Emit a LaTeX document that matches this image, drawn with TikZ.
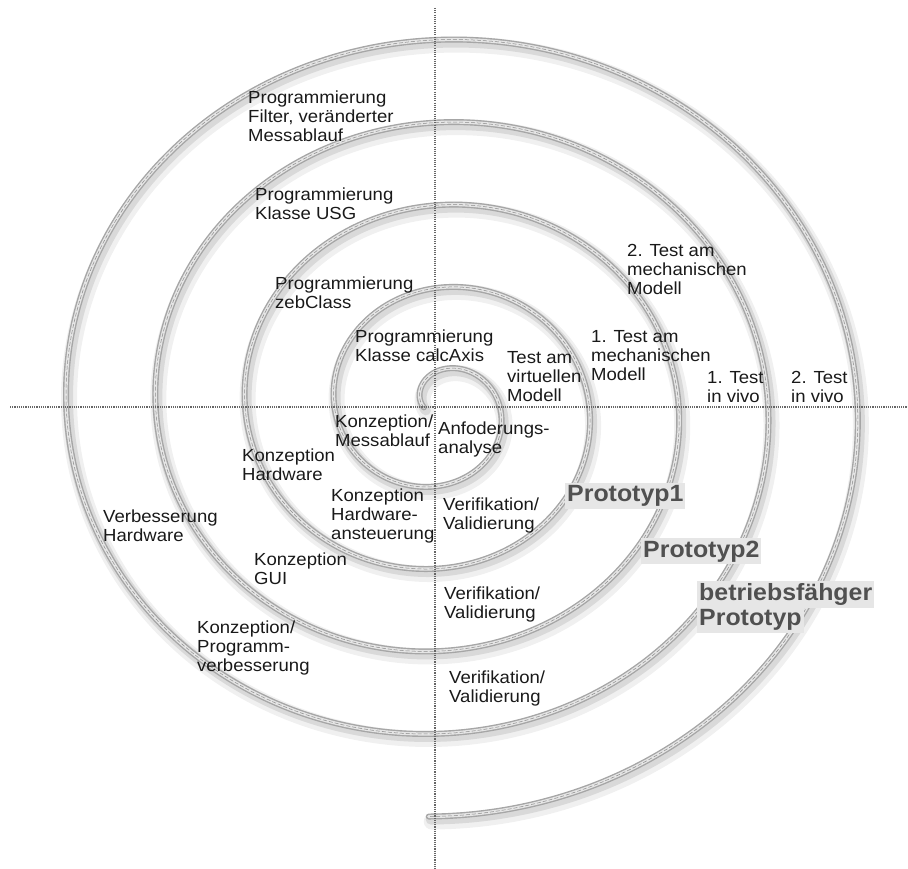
\documentclass[tikz,border=0pt]{standalone}
\usepackage{fontspec}
\setmainfont{Liberation Sans}[FakeStretch=1.06]
\definecolor{protogray}{HTML}{505050}
\definecolor{protobg}{HTML}{E6E6E6}
\begin{document}
\begin{tikzpicture}[x=1pt,y=-1pt,
  shadowwide/.style={draw=black!6, line width=16pt, line cap=round},
  shadownarrow/.style={draw=black!15, line width=10pt, line cap=round},
  tubeedge/.style={draw=black!35, line width=6pt, line cap=round},
  tubebody/.style={draw=black!10, line width=3.2pt, line cap=round},
  tubeline/.style={draw=black!45, line width=0.5pt, dash pattern=on 4pt off 2pt},
  axisline/.style={draw=black!60, line width=1.3pt, dash pattern=on 1.1pt off 1.1pt},
  lbl/.style={anchor=north west, inner sep=0pt, align=left, font=\fontsize{17.5}{19}\selectfont, text=black!90},
  proto/.style={anchor=north west, inner xsep=2pt, inner ysep=2.5pt, fill=protobg, text=protogray, font=\fontsize{23.5}{25}\selectfont\bfseries}
]
\useasboundingbox (0,0) rectangle (908,869);
% spiral: shadow layers
\draw[shadowwide, shift={(3,5)}] plot[domain=-3.1416:26.735,samples=800,smooth,variable=\t] ({439.6+(60.4+14.23*\t)*cos(\t r)},{407.4+(57.8+13.15*\t)*sin(\t r)});
\draw[shadownarrow, shift={(2,3)}] plot[domain=-3.1416:26.735,samples=800,smooth,variable=\t] ({439.6+(60.4+14.23*\t)*cos(\t r)},{407.4+(57.8+13.15*\t)*sin(\t r)});
% spiral: tube
\draw[tubeedge] plot[domain=-3.1416:26.735,samples=800,smooth,variable=\t] ({439.6+(60.4+14.23*\t)*cos(\t r)},{407.4+(57.8+13.15*\t)*sin(\t r)});
\draw[tubebody] plot[domain=-3.1416:26.735,samples=800,smooth,variable=\t] ({439.6+(60.4+14.23*\t)*cos(\t r)},{407.4+(57.8+13.15*\t)*sin(\t r)});
\draw[tubeline] plot[domain=-3.1416:26.735,samples=800,smooth,variable=\t] ({439.6+(60.4+14.23*\t)*cos(\t r)},{407.4+(57.8+13.15*\t)*sin(\t r)});
% axes
\coordinate (hl) at (10,407);
\coordinate (hr) at (908,407);
\coordinate (vt) at (435,8);
\coordinate (vb) at (435,869);
\draw[axisline] (hl) -- (hr);
\draw[axisline] (vt) -- (vb);
% labels
\node[lbl] (a) at (248,91) {Programmierung\\Filter, veränderter\\Messablauf};
\node[lbl] (b) at (255,188) {Programmierung\\Klasse USG};
\node[lbl] (c) at (275,277) {Programmierung\\zebClass};
\node[lbl] (d) at (355,330) {Programmierung\\Klasse calcAxis};
\node[lbl] (e) at (507,351) {Test am\\virtuellen\\Modell};
\node[lbl] (f) at (591,330) {1. Test am\\mechanischen\\Modell};
\node[lbl] (g) at (627,244) {2. Test am\\mechanischen\\Modell};
\node[lbl] (h) at (707,371) {1. Test\\in vivo};
\node[lbl] (i) at (791,371) {2. Test\\in vivo};
\node[lbl] (j) at (335,415) {Konzeption/\\Messablauf};
\node[lbl] (k) at (438,422) {Anfoderungs-\\analyse};
\node[lbl] (l) at (242,449) {Konzeption\\Hardware};
\node[lbl] (m) at (331,489) {Konzeption\\Hardware-\\ansteuerung};
\node[lbl] (n) at (103,510) {Verbesserung\\Hardware};
\node[lbl] (o) at (254,553) {Konzeption\\GUI};
\node[lbl] (p) at (197,621) {Konzeption/\\Programm-\\verbesserung};
\node[lbl] (q1) at (443,498) {Verifikation/\\Validierung};
\node[lbl] (q2) at (444,587) {Verifikation/\\Validierung};
\node[lbl] (q3) at (449,671) {Verifikation/\\Validierung};
% prototypes
\node[proto] (p1) at (565,483) {Prototyp1};
\node[proto] (p2) at (641,538) {Prototyp2};
\node[proto] (p3a) at (697,581) {betriebsfähger};
\node[proto] (p3b) at (697,607) {Prototyp};
\end{tikzpicture}
\end{document}
